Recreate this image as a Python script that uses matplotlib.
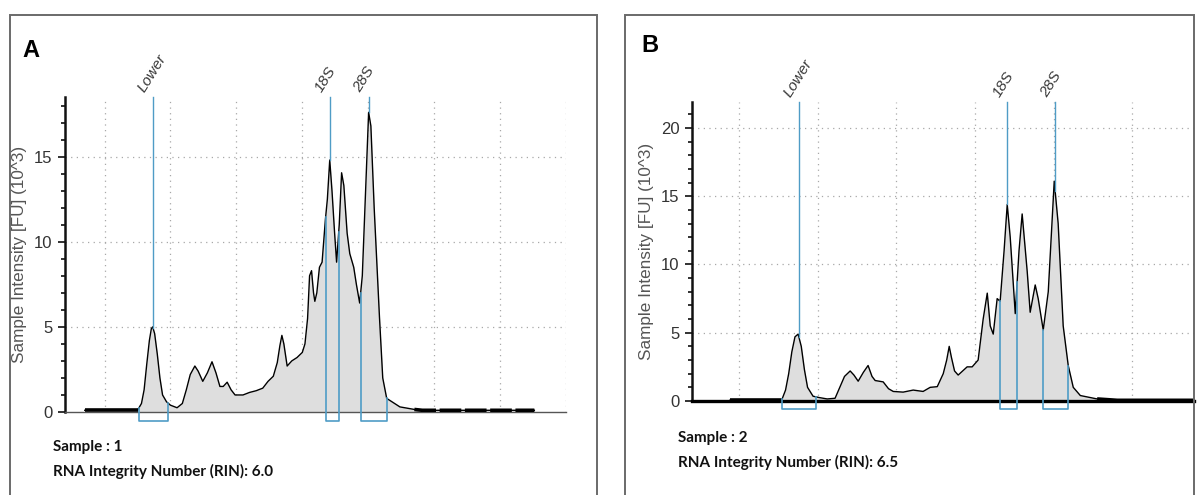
import numpy as np
import matplotlib
matplotlib.use("Agg")
import matplotlib.pyplot as plt
from matplotlib.patches import Rectangle

# --------- data ---------------------------------------------
# migration time (s) / fluorescence (FU x 10^3)
time_a = [23.5, 27.5, 27.8, 28.0, 28.2, 28.4, 28.55, 28.65, 28.8, 29.0, 29.2, 29.4, 29.7, 30.0,
          30.5, 30.9, 31.2, 31.5, 31.85, 32.1, 32.45, 32.8, 33.15, 33.45, 33.75, 34.0, 34.3, 34.6,
          34.9, 35.5, 36.0, 36.5, 37.0, 37.4, 37.8, 38.1, 38.3, 38.45, 38.6, 38.85, 39.2, 39.6,
          40.0, 40.2, 40.4, 40.55, 40.7, 40.85, 40.95, 41.1, 41.3, 41.5, 41.75, 41.9, 42.08, 42.25,
          42.45, 42.6, 42.8, 42.98, 43.15, 43.4, 43.6, 43.9, 44.1, 44.35, 44.55, 44.8, 45.03, 45.2,
          45.45, 45.85, 46.1, 46.4, 47.0, 47.4, 48.5, 49.1, 57.6]
fu_a = [0.1, 0.1, 0.5, 1.3, 2.8, 4.2, 4.9, 5.0, 4.6, 3.4, 2.0, 1.0, 0.6, 0.4,
        0.25, 0.5, 1.3, 2.2, 2.7, 2.4, 1.8, 2.3, 2.95, 2.3, 1.5, 1.5, 1.75, 1.3,
        1.0, 1.0, 1.15, 1.25, 1.4, 1.8, 2.1, 2.9, 3.9, 4.5, 4.0, 2.7, 3.0, 3.2,
        3.5, 4.0, 5.5, 8.0, 8.3, 7.0, 6.5, 7.0, 8.5, 8.8, 11.3, 12.5, 14.8, 13.0,
        10.5, 8.8, 11.0, 14.05, 13.3, 10.5, 9.3, 8.5, 7.5, 6.4, 8.0, 13.0, 17.6, 16.8,
        12.0, 5.6, 2.0, 0.8, 0.5, 0.3, 0.15, 0.1, 0.1]

time_b = [24.4, 27.7, 27.95, 28.15, 28.35, 28.55, 28.75, 28.95, 29.15, 29.35, 29.7, 30.1, 30.6,
          31.1, 31.4, 31.7, 32.06, 32.3, 32.57, 32.9, 33.2, 33.45, 33.65, 34.16, 34.5, 34.8, 35.43,
          36.07, 36.7, 37.15, 37.6, 37.98, 38.2, 38.36, 38.5, 38.7, 38.93, 39.5, 39.82, 40.2, 40.52,
          40.78, 40.97, 41.16, 41.41, 41.6, 41.85, 42.05, 42.24, 42.56, 42.8, 43.0, 43.32, 43.51,
          43.83, 44.02, 44.34, 44.66, 45.04, 45.29, 45.61, 45.93, 46.25, 46.7, 47.77, 49.05, 53.9]
fu_b = [0.05, 0.05, 0.8, 2.0, 3.6, 4.7, 4.9, 4.0, 2.3, 1.0, 0.35, 0.25, 0.15,
        0.2, 1.0, 1.8, 2.2, 1.9, 1.45, 2.1, 2.6, 1.8, 1.5, 1.4, 0.9, 0.7, 0.65,
        0.8, 0.7, 1.0, 1.05, 2.0, 3.0, 4.0, 3.2, 2.2, 1.9, 2.5, 2.5, 3.0, 6.0,
        7.9, 5.5, 4.9, 7.5, 7.3, 11.0, 14.4, 12.0, 6.4, 11.0, 13.7, 9.5, 6.5,
        8.5, 7.5, 5.2, 8.0, 16.1, 13.0, 5.5, 2.6, 1.0, 0.4, 0.15, 0.05, 0.05]

peak_names = ["Lower", "18S", "28S"]
peaks_a = [28.67, 42.08, 45.03]
peaks_b = [28.8, 42.05, 45.1]
windows_a = [(27.6, 29.8), (41.77, 42.76), (44.42, 46.39)]
windows_b = [(27.74, 29.9), (41.6, 42.68), (44.34, 45.93)]

samples = ["Sample : 1", "Sample : 2"]
rin_values = ["6.0", "6.5"]

# --------- figure ----------
W, H = 1203, 495
fig = plt.figure(figsize=(W / 100, H / 100), dpi=100)

def fx(px):
    return px / W

def fy(py):
    return 1 - py / H

BLUE = "#4f9cc6"
TICKFONT = ["Liberation Sans Narrow", "Liberation Sans", "DejaVu Sans"]


def panel(box, axbox, t, fu, peaks, windows, xlim, ylim, ymajor, gridx, letter,
          letter_pos, sample, rin, text_pos, thick_axis):
    # outer frame
    x0, y0, x1 = box
    fig.patches.append(Rectangle((fx(x0), fy(y0 + 500)), fx(x1 - x0), 500 / H,
                                 transform=fig.transFigure, fill=False,
                                 edgecolor="#6a6a6a", lw=1.4))
    l, t_, r, b = axbox
    ax = fig.add_axes([fx(l), fy(b), fx(r - l), (b - t_) / H])
    t = np.array(t)
    fu = np.array(fu)

    ax.fill_between(t, 0, fu, color="#dedede", lw=0, zorder=1)
    ax.plot(t, fu, color="black", lw=1.0, zorder=3)
    base = fu <= 0.12
    # thick baseline stretches before and after the trace
    first = np.argmax(~base)
    ax.plot(t[:first], fu[:first], color="black", lw=2.6, zorder=3, solid_capstyle="butt")
    last = len(fu) - np.argmax(~base[::-1])
    ax.plot(t[last - 1:], fu[last - 1:], color="black", lw=2.6, zorder=3,
            dashes=(6, 1) if not thick_axis else (None, None), solid_capstyle="butt")

    # grid
    for g in gridx:
        ax.axvline(g, color="#a8a8a8", lw=0.9, ls=(0, (1, 3.5)), zorder=0)
    for g in ymajor[1:]:
        ax.axhline(g, color="#a8a8a8", lw=0.9, ls=(0, (1, 3.5)), zorder=0)

    # peak markers
    for name, p in zip(peak_names, peaks):
        top = np.interp(p, t, fu)
        ax.plot([p, p], [top, ylim[1]], color=BLUE, lw=1.0, zorder=4, clip_on=False)
        ax.annotate(name, xy=(p, ylim[1]), xytext=(-4, 2), textcoords="offset points",
                    rotation=58, rotation_mode="anchor", ha="left", va="bottom",
                    fontsize=11, style="italic", color="#3a3a3a", family=TICKFONT,
                    annotation_clip=False)
    drop = ylim[1] * 0.028
    for lo, hi in windows:
        ya, yb = np.interp(lo, t, fu), np.interp(hi, t, fu)
        ax.plot([lo, lo, hi, hi], [ya, -drop, -drop, yb], color=BLUE, lw=1.2,
                zorder=4, clip_on=False)

    ax.set_xlim(*xlim)
    ax.set_ylim(*ylim)
    ax.set_xticks([])
    ax.set_yticks(ymajor)
    ax.set_yticks(np.arange(0, ylim[1], 1), minor=True)
    ax.tick_params(axis="y", which="major", length=5, width=1.3, colors="#222",
                   labelsize=12, pad=4)
    ax.tick_params(axis="y", which="minor", length=3, width=1.3, color="#222")
    for lab in ax.get_yticklabels():
        lab.set_family(TICKFONT)
        lab.set_color("#333")
    for s in ["top", "right"]:
        ax.spines[s].set_visible(False)
    ax.spines["left"].set_linewidth(1.8)
    ax.spines["left"].set_color("#111")
    if thick_axis:
        ax.spines["bottom"].set_linewidth(2.4)
        ax.spines["bottom"].set_color("black")
    else:
        ax.spines["bottom"].set_linewidth(1.0)
        ax.spines["bottom"].set_color("#555")
    ax.set_ylabel("Sample Intensity [FU] (10^3)", fontsize=12.3, color="#555",
                  family=TICKFONT, labelpad=5)
    ax.patch.set_alpha(0)

    fig.text(fx(letter_pos[0]), fy(letter_pos[1]), letter, fontsize=17,
             fontweight="bold", family="Liberation Sans", va="baseline")
    fig.text(fx(text_pos[0]), fy(text_pos[1]), sample, fontsize=11,
             fontweight="bold", family="Lato", va="baseline", color="#111")
    fig.text(fx(text_pos[0]), fy(text_pos[1] + 25), "RNA Integrity Number (RIN): " + rin,
             fontsize=11, fontweight="bold", family="Lato", va="baseline", color="#111")
    return ax


panel((10, 15, 597), (65, 97, 566, 412), time_a, fu_a, peaks_a, windows_a,
      (22, 60), (0, 18.5), [0, 5, 10, 15], range(25, 61, 5), "A", (22, 57),
      samples[0], rin_values[0], (53, 451), False)
panel((625, 15, 1194), (692, 102, 1194, 401), time_b, fu_b, peaks_b, windows_b,
      (22, 53.93), (0, 21.9), [0, 5, 10, 15, 20], range(25, 54, 5), "B", (641, 52),
      samples[1], rin_values[1], (678, 442), True)

fig.savefig("out.png", dpi=100)
